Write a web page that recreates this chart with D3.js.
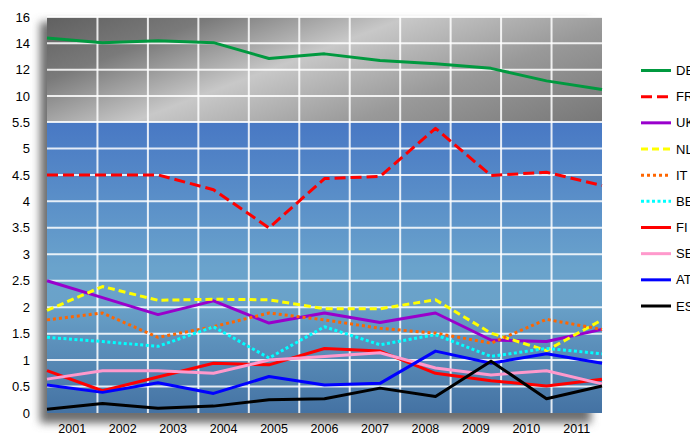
<!DOCTYPE html>
<html><head><meta charset="utf-8">
<script src="https://cdn.jsdelivr.net/npm/d3@7/dist/d3.min.js"></script>
<style>body{margin:0;background:#fff;}svg{display:block;font-family:"Liberation Sans",Arial,sans-serif;}</style>
</head><body>
<svg id="c" width="690" height="434"></svg>
<script>
const years = ["2001","2002","2003","2004","2005","2006","2007","2008","2009","2010","2011"];
const yTicks = [0,0.5,1,1.5,2,2.5,3,3.5,4,4.5,5,5.5,10,12,14,16];
const seriesNames = ["DE","FR","UK","NL","IT","BE","FI","SE","AT","ES"];
const DE = [14.4,14.05,14.2,14.05,12.85,13.2,12.7,12.45,12.1,11.15,10.5];
const FR = [4.5,4.5,4.5,4.22,3.5,4.43,4.47,5.38,4.49,4.55,4.3];
const UK = [2.5,2.18,1.86,2.12,1.7,1.89,1.71,1.89,1.38,1.35,1.58];
const NL = [1.94,2.39,2.13,2.15,2.14,1.97,1.97,2.14,1.51,1.18,1.76];
const IT = [1.76,1.89,1.43,1.63,1.89,1.76,1.6,1.51,1.32,1.77,1.58];
const BE = [1.43,1.35,1.26,1.63,1.04,1.63,1.29,1.48,1.07,1.22,1.12];
const FI = [0.8,0.42,0.68,0.94,0.91,1.22,1.17,0.75,0.61,0.51,0.64];
const SE = [0.64,0.8,0.8,0.75,1.0,1.07,1.14,0.85,0.72,0.8,0.55];
const AT = [0.53,0.39,0.57,0.37,0.69,0.53,0.56,1.17,0.94,1.12,0.94];
const ES = [0.07,0.18,0.09,0.13,0.25,0.27,0.47,0.31,0.98,0.27,0.51];

const values = {DE,FR,UK,NL,IT,BE,FI,SE,AT,ES};
const styles = {
  DE:{c:"#00993f",w:3,d:null},
  FR:{c:"#ff0000",w:3,d:"11,5"},
  UK:{c:"#9900cc",w:3,d:null},
  NL:{c:"#ffff00",w:3,d:"7,4"},
  IT:{c:"#ff6600",w:3,d:"3,3"},
  BE:{c:"#00ffff",w:3,d:"3,2.5"},
  FI:{c:"#ff0000",w:3,d:null},
  SE:{c:"#ff99cc",w:3,d:null},
  AT:{c:"#0000ff",w:3,d:null},
  ES:{c:"#000000",w:3,d:null}
};

const L=47,R=602,T=17,B=413;
const svg = d3.select("#c");
const y = d3.scaleLinear().domain([0,5.5,10,16]).range([B,122,96,T]);
const xb = d3.scaleBand().domain(years).range([L,R]);
const xp = d3.scalePoint().domain(years).range([L,R]);

const defs = svg.append("defs");
const gg = defs.append("linearGradient").attr("id","gray").attr("gradientUnits","userSpaceOnUse")
  .attr("x1",11.6).attr("y1",30.5).attr("x2",116.4).attr("y2",306.5);
[[0,"#606060"],[0.2,"#7a7a7a"],[0.434,"#c8c8c8"],[0.7,"#999999"],[1,"#777777"]].forEach(s=>gg.append("stop").attr("offset",s[0]).attr("stop-color",s[1]));
const bg = defs.append("linearGradient").attr("id","blue").attr("x1",0).attr("y1",0).attr("x2",0).attr("y2",1);
[[0,"#4878c4"],[0.5,"#6aa3cc"],[0.62,"#6aa2c9"],[1,"#4472a3"]].forEach(s=>bg.append("stop").attr("offset",s[0]).attr("stop-color",s[1]));
const f = defs.append("filter").attr("id","sh").attr("x","-10%").attr("y","-10%").attr("width","120%").attr("height","120%");
f.append("feGaussianBlur").attr("stdDeviation",4);

// shadow
svg.append("rect").attr("x",L-7).attr("y",T+5).attr("width",R-L-4).attr("height",B-T+5)
  .attr("fill","#6e6e6e").attr("filter","url(#sh)");
// backgrounds
svg.append("rect").attr("x",L).attr("y",T).attr("width",R-L).attr("height",y(5.5)-T).attr("fill","url(#gray)");
svg.append("rect").attr("x",L).attr("y",y(5.5)).attr("width",R-L).attr("height",B-y(5.5)).attr("fill","url(#blue)");

// gridlines
const grid = svg.append("g").attr("stroke","#ffffff").attr("stroke-opacity",0.85).attr("stroke-width",2);
yTicks.filter(v=>v>0).forEach(v=>grid.append("line").attr("x1",L).attr("x2",R).attr("y1",y(v)).attr("y2",y(v)));
years.slice(1).forEach(yr=>grid.append("line").attr("x1",xb(yr)).attr("x2",xb(yr)).attr("y1",T).attr("y2",B));

// axes
const ya = svg.append("g").attr("transform",`translate(${L-14},0)`)
  .call(d3.axisLeft(y).tickValues(yTicks).tickSize(0).tickFormat(d=>String(d)));
ya.select(".domain").remove();
ya.selectAll("text").attr("font-size",13).attr("fill","#000").attr("font-family","Liberation Sans, Arial, sans-serif").attr("dx",0);

const xa = svg.append("g").attr("transform",`translate(0,${B})`)
  .call(d3.axisBottom(xb).tickSize(0));
xa.select(".domain").remove();
xa.selectAll("text").attr("font-size",12.5).attr("fill","#000").attr("y",20).attr("dy",0)
  .attr("font-family","Liberation Sans, Arial, sans-serif");

// lines
const line = d3.line().x((d,i)=>xp(years[i])).y(d=>y(d));
seriesNames.forEach(n=>{
  const s = styles[n];
  svg.append("path").datum(values[n]).attr("d",line).attr("fill","none")
    .attr("stroke",s.c).attr("stroke-width",s.w).attr("stroke-linejoin","round")
    .attr("stroke-dasharray",s.d);
});

// legend
const lg = svg.append("g");
const legY = d3.scalePoint().domain(seriesNames).range([70.5,306]);
seriesNames.forEach(n=>{
  const s = styles[n];
  const yy = legY(n);
  lg.append("line").attr("x1",641).attr("x2",671).attr("y1",yy).attr("y2",yy)
    .attr("stroke",s.c).attr("stroke-width",3).attr("stroke-dasharray",s.d);
  lg.append("text").attr("x",676).attr("y",yy).attr("dy","0.35em").attr("font-size",13).text(n);
});
</script>
</body></html>
